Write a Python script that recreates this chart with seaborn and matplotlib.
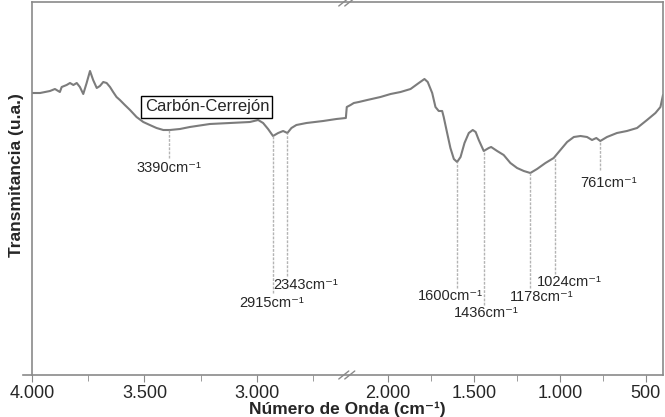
import numpy as np
import pandas as pd
import seaborn as sns
import matplotlib
matplotlib.use('Agg')
import matplotlib.pyplot as plt

# espectro FTIR (numero de onda en cm-1, transmitancia u.a.)
wavenumber = [4000, 3964, 3942, 3920, 3898, 3876, 3868, 3846, 3831, 3816, 3801, 3787,
              3772, 3757, 3742, 3728, 3712, 3698, 3683, 3668, 3653, 3639, 3624, 3609,
              3587, 3564, 3535, 3505, 3476, 3446, 3416, 3387, 3342, 3298, 3209, 3120,
              3031, 2994, 2972, 2950, 2928, 2905, 2883, 2864, 2846, 2824, 2779, 2705,
              2646, 2604,
              2240, 2218, 2199, 2170, 2121, 2044, 1985, 1927, 1869, 1821, 1788, 1769,
              1743, 1724, 1705, 1685, 1676, 1656, 1637, 1617, 1598, 1578, 1555, 1530,
              1507, 1490, 1472, 1443, 1414, 1400, 1365, 1327, 1288, 1249, 1210, 1172,
              1133, 1084, 1036, 997, 958, 919, 880, 842, 813, 788, 765, 726, 668, 610,
              551, 493, 444, 415, 400]
transmit = [282, 282, 283, 284, 286, 283, 288, 290, 292, 290, 292, 288,
            281, 292, 304, 295, 287, 289, 293, 292, 288, 283, 278, 275,
            270, 265, 258, 253, 250, 247, 245, 245, 246, 248, 251, 252,
            253, 255, 252, 246, 239, 242, 244, 242, 247, 250, 252, 254,
            256, 257,
            268, 270, 272, 273, 275, 278, 281, 283, 286, 292, 296, 293,
            282, 268, 264, 264, 258, 242, 227, 216, 213, 218, 232, 242,
            245, 243, 235, 224, 227, 228, 224, 220, 212, 207, 204, 202,
            206, 212, 217, 225, 233, 238, 239, 238, 235, 237, 234, 238, 242, 244,
            247, 255, 262, 268, 280]

# picos marcados
peak_pos = [3390, 2928, 2864, 1598, 1443, 1172, 1030, 765]
peak_text = ['3390', '2915', '2343', '1600', '1436', '1178', '1024', '761']
peak_end = [217, 82, 99, 87, 70, 87, 101, 205]
label_at = [(3390, 207), (2935, 72), (2782, 90), (1637, 79), (1427, 62),
            (1108, 78), (945, 93), (719, 192)]

major_ticks = [4000, 3500, 3000, 2000, 1500, 1000, 500]
minor_ticks = [3750, 3250, 2750, 1750, 1250, 750]

# eje roto entre 2600 y 2240 cm-1
BR_LO, BR_HI = 2240, 2600
S_LO, S_HI, S_MID = 0.172, 0.225, 1e-4
C_MID = S_MID * (BR_HI - BR_LO)


def fwd(w):
    w = np.asarray(w, dtype=float)
    return np.where(w <= BR_LO, S_LO * (w - BR_LO),
                    np.where(w >= BR_HI, C_MID + S_HI * (w - BR_HI),
                             S_MID * (w - BR_LO)))


def inv(u):
    u = np.asarray(u, dtype=float)
    return np.where(u <= 0, BR_LO + u / S_LO,
                    np.where(u >= C_MID, BR_HI + (u - C_MID) / S_HI,
                             BR_LO + u / S_MID))


sns.set_style('white')
plt.rcParams['font.family'] = ['Liberation Sans', 'DejaVu Sans']

df = pd.DataFrame({'w': wavenumber, 't': transmit})

fig = plt.figure(figsize=(6.65, 4.17), dpi=100)
ax = fig.add_axes([32 / 665, 1 - 375 / 417, 631 / 665, 373 / 417])
ax.set_xscale('function', functions=(fwd, inv))

sns.lineplot(data=df, x='w', y='t', sort=False, color='#7c7c7c', lw=1.5, ax=ax)

# lineas de los picos
w_inc = df['w'].values[::-1]
t_inc = df['t'].values[::-1]
tops = np.interp(peak_pos, w_inc, t_inc)
ax.vlines(peak_pos, peak_end, tops, colors='#b4b4b4', lw=1, linestyles=(0, (2, 1)))
for txt, (lx, ly) in zip(peak_text, label_at):
    ax.text(lx, ly, txt + 'cm⁻¹', ha='center', va='center', fontsize=10.5)

ax.text(3222, 268, 'Carbón-Cerrejón', ha='center', va='center', fontsize=12,
        bbox=dict(boxstyle='square,pad=0.2', fc='white', ec='black', lw=1))

ax.set_xlim(4000, 400)
ax.set_ylim(0, 373)
ax.set_xticks(major_ticks)
ax.set_xticklabels([f'{t:,}'.replace(',', '.') for t in major_ticks], fontsize=13)
ax.set_xticks(minor_ticks, minor=True)
ax.tick_params(axis='x', which='both', direction='out', bottom=True, color='#8a8a8a',
               pad=2)
ax.tick_params(axis='x', which='major', length=5)
ax.tick_params(axis='x', which='minor', length=4)
ax.set_yticks([])

for s in ax.spines.values():
    s.set_color('#8a8a8a')
    s.set_linewidth(1.2)
ax.spines['bottom'].set_bounds(4040, 400)

ax.set_xlabel('Número de Onda (cm⁻¹)', fontsize=12.5, fontweight='bold', labelpad=0)
ax.set_ylabel('Transmitancia (u.a.)', fontsize=12.5, fontweight='bold')
ax.yaxis.set_label_coords(-0.012, 0.536)

# marcas de corte //
fig.canvas.draw()
xb = ax.transAxes.inverted().transform(ax.transData.transform((2420, 0)))[0]
px, py = 1 / 631, 1 / 373
for yb in (0, 1):
    for dx in (-3, 3):
        ax.plot([xb + (dx - 5) * px, xb + (dx + 5) * px],
                [yb - 4 * py, yb + 4 * py], transform=ax.transAxes,
                color='#8a8a8a', lw=1, clip_on=False)

fig.savefig('out.png', dpi=100)
